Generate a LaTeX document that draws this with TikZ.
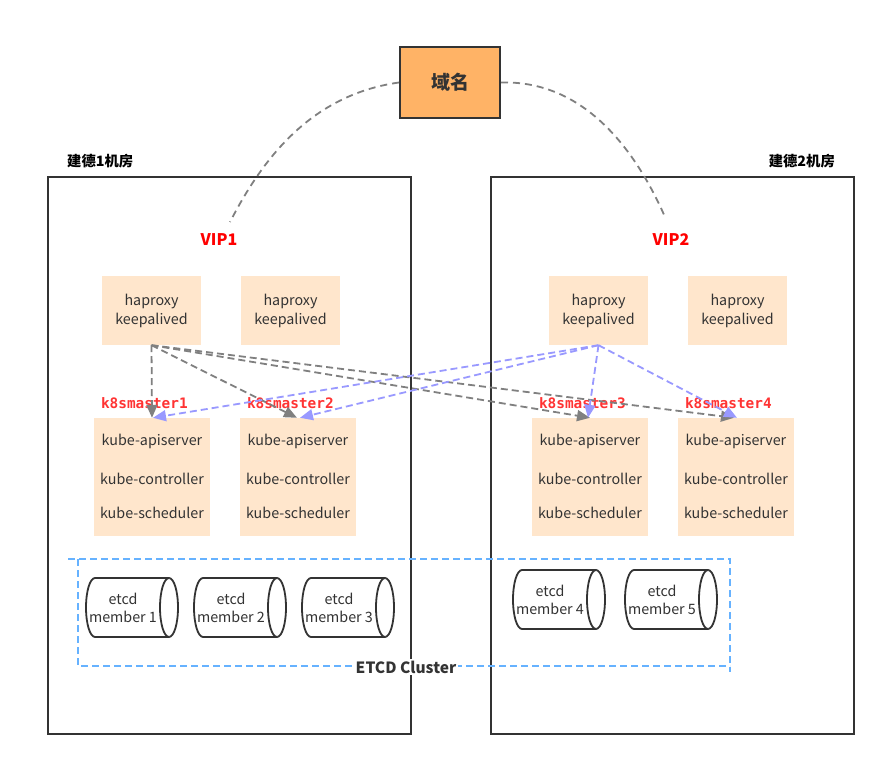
\documentclass[tikz,border=0pt]{standalone}
\usepackage{fontspec}
\setmainfont{Noto Sans CJK SC}
\newfontfamily\labelmono{DejaVu Sans Mono}
\usetikzlibrary{arrows.meta}
\definecolor{dark}{HTML}{333333}
\definecolor{orangebox}{HTML}{FFB366}
\definecolor{peach}{HTML}{FFE6CC}
\definecolor{grayline}{HTML}{808080}
\definecolor{blueline}{HTML}{9999FF}
\definecolor{etcdblue}{HTML}{66B2FF}
\definecolor{redlbl}{HTML}{FF3333}
\tikzset{
  domainbox/.style={draw=dark, line width=2pt, fill=orangebox, minimum width=100pt, minimum height=71pt, inner sep=0pt, font=\fontsize{19}{22}\selectfont\bfseries, text=dark},
  room/.style={draw=dark, line width=2pt, minimum width=363pt, minimum height=557pt, inner sep=0pt},
  roomlbl/.style={font=\fontsize{14.3}{16}\selectfont\bfseries, text=black, inner sep=0pt},
  vip/.style={font=\fontsize{16}{18}\selectfont\bfseries, text=red, inner sep=0pt},
  hpbox/.style={fill=peach, minimum width=99pt, minimum height=69pt, inner sep=0pt, align=center, font=\fontsize{14.3}{19}\selectfont, text=dark},
  mbox/.style={fill=peach, minimum width=116pt, minimum height=118pt, inner sep=0pt},
  mtext/.style={font=\fontsize{14.3}{16}\selectfont, text=dark, inner sep=0pt},
  mlbl/.style={font=\fontsize{14.4}{16}\selectfont\labelmono\bfseries, text=redlbl, inner sep=0pt, anchor=west},
  curve/.style={draw=grayline, line width=1.8pt, dash pattern=on 7pt off 5pt},
  grayarrow/.style={draw=grayline, line width=1.8pt, dash pattern=on 7pt off 4pt, -{Triangle[length=13pt,width=11pt,fill=grayline]}},
  bluearrow/.style={draw=blueline, line width=1.8pt, dash pattern=on 7pt off 4pt, -{Triangle[length=13pt,width=11pt,fill=blueline]}},
  cyl/.style={draw=dark, line width=1.8pt, fill=white},
  cyltext/.style={font=\fontsize{14.3}{18}\selectfont, text=dark, align=center, inner sep=0pt},
  etcdbox/.style={draw=etcdblue, line width=1.8pt, dash pattern=on 7pt off 4pt},
  etcdlbl/.style={font=\fontsize{15.5}{17}\selectfont\bfseries, text=dark, fill=white, inner sep=1.5pt}
}
\newcommand\etcdcyl[4]{%
  \filldraw[cyl] ({#2+83},{-#3}) -- ({#2+9},{-#3}) arc[start angle=90,end angle=270,x radius=9,y radius=29.5] -- ({#2+83},{-#3-59}) arc[start angle=-90,end angle=90,x radius=9,y radius=29.5] -- cycle;
  \draw[cyl] ({#2+83},{-#3}) arc[start angle=90,end angle=270,x radius=9,y radius=29.5];
  \node[cyltext] (#1) at ({#2+37},{-#3-30}) {etcd\\member #4};
}
\begin{document}
\begin{tikzpicture}[x=1pt,y=1pt]
\useasboundingbox (0,0) rectangle (887,-767);
\fill[white] (0,0) rectangle (887,-767);

% rooms
\node[room] (r1) at (229.5,-455.5) {};
\node[room] (r2) at (672,-455.5) {};
\node[roomlbl, anchor=west] (r1l) at (67,-161) {建德1机房};
\node[roomlbl, anchor=east] (r2l) at (835,-161) {建德2机房};

% domain
\node[domainbox] (dom) at (450,-82.5) {域名};

% VIPs
\node[vip] (v1) at (219,-240) {VIP1};
\node[vip] (v2) at (671,-240) {VIP2};
\coordinate (c1) at (230,-222);
\coordinate (c2) at (665,-217);
\draw[curve] (dom.west) .. controls (310,-95) and (262,-160) .. (c1);
\draw[curve] (dom.east) .. controls (590,-80) and (640,-160) .. (c2);

% haproxy
\node[hpbox] (hp1) at (151.5,-310.5) {haproxy\\keepalived};
\node[hpbox] (hp2) at (290.5,-310.5) {haproxy\\keepalived};
\node[hpbox] (hp3) at (598.5,-310.5) {haproxy\\keepalived};
\node[hpbox] (hp4) at (737.5,-310.5) {haproxy\\keepalived};

% masters
\foreach \n/\x in {1/152,2/298,3/590,4/736}{
  \node[mbox] (m\n) at (\x,-477) {};
  \node[mtext] (m\n a) at (\x,-441) {kube-apiserver};
  \node[mtext] (m\n b) at (\x,-479) {kube-controller};
  \node[mtext] (m\n c) at (\x,-513) {kube-scheduler};
  \node[mlbl] (m\n l) at ([shift={(7pt,15pt)}]m\n.north west) {k8smaster\n};
}

% arrows
\draw[grayarrow] (hp1.south) -- (m1.north);
\draw[grayarrow] (hp1.south) -- ([xshift=-1pt]m2.north);
\draw[grayarrow] (hp1.south) -- (m3.north);
\draw[grayarrow] (hp1.south) -- ([xshift=-2pt]m4.north);
\draw[bluearrow] (hp3.south) -- ([xshift=1pt]m1.north);
\draw[bluearrow] (hp3.south) -- ([xshift=2pt]m2.north);
\draw[bluearrow] (hp3.south) -- ([xshift=-2pt]m3.north);
\draw[bluearrow] (hp3.south) -- ([xshift=1pt]m4.north);

% etcd cluster
\draw[etcdbox] (68,-559) -- (730,-559) -- (730,-672);
\draw[etcdbox] (78,-559) -- (78,-666) -- (730,-666);
\etcdcyl{e1}{86}{578}{1}
\etcdcyl{e2}{194}{578}{2}
\etcdcyl{e3}{302}{578}{3}
\etcdcyl{e4}{513}{570}{4}
\etcdcyl{e5}{625}{570}{5}
\node[etcdlbl] (ec) at (406,-667) {ETCD Cluster};
\end{tikzpicture}
\end{document}
